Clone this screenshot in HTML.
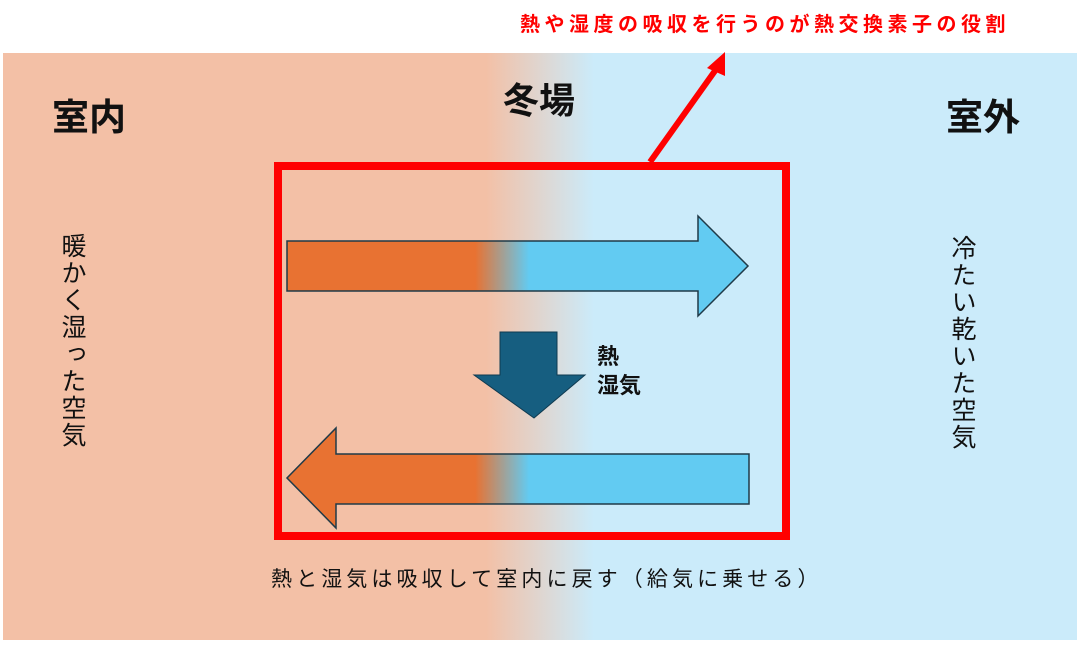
<!DOCTYPE html>
<html><head><meta charset="utf-8"><style>
body{margin:0;width:1080px;height:645px;background:#fff;position:relative;overflow:hidden;font-family:"Liberation Sans","Noto Sans CJK JP",sans-serif;}
.t{position:absolute;white-space:nowrap;color:#111;font-weight:bold;}
.v{writing-mode:vertical-rl;}
</style></head><body>
<svg width="1080" height="645" style="position:absolute;left:0;top:0">
<defs>
<linearGradient id="bg" x1="0" x2="1080" gradientUnits="userSpaceOnUse">
<stop offset="0.45" stop-color="#F3C0A6"/><stop offset="0.55" stop-color="#CBEBFA"/>
</linearGradient>
<linearGradient id="ar" x1="0" x2="1080" gradientUnits="userSpaceOnUse">
<stop offset="0.44" stop-color="#E87232"/><stop offset="0.49" stop-color="#62CBF2"/>
</linearGradient>
</defs>
<rect x="3" y="53" width="1074" height="587" fill="url(#bg)"/>
<rect x="278" y="166" width="508" height="370" fill="none" stroke="#FF0000" stroke-width="8"/>
<polygon points="287,241 698,241 698,216 748,266 698,316 698,291 287,291" fill="url(#ar)" stroke="#1f3a48" stroke-width="1.5"/>
<polygon points="749,454 336,454 336,428 287,478 336,528 336,504 749,504" fill="url(#ar)" stroke="#1f3a48" stroke-width="1.5"/>
<polygon points="500,332 557,332 557,375 585,375 534,418 474,375 500,375" fill="#165E80" stroke="#0f3a50" stroke-width="1"/>
<line x1="650" y1="162" x2="717" y2="68" stroke="#FF0000" stroke-width="6"/>
<polygon points="725,52 707,68 725,76" fill="#FF0000"/>
</svg>
<div class="t" style="left:520px;top:8px;font-size:20px;letter-spacing:4.5px;color:#FF0000;">熱や湿度の吸収を行うのが熱交換素子の役割</div>
<div class="t" style="left:503px;top:72px;font-size:36px;">冬場</div>
<div class="t" style="left:52px;top:87px;font-size:37px;">室内</div>
<div class="t" style="left:946px;top:87px;font-size:37px;">室外</div>
<div class="t v" style="left:54px;top:233px;font-size:25px;letter-spacing:2px;font-weight:normal;">暖かく湿った空気</div>
<div class="t v" style="left:944px;top:235px;font-size:25px;letter-spacing:2px;font-weight:normal;">冷たい乾いた空気</div>
<div class="t" style="left:597px;top:342px;font-size:22px;line-height:29px;">熱<br>湿気</div>
<div class="t" style="left:271px;top:563px;font-size:21px;letter-spacing:4.1px;font-weight:normal;">熱と湿気は吸収して室内に戻す（給気に乗せる）</div>
</body></html>
